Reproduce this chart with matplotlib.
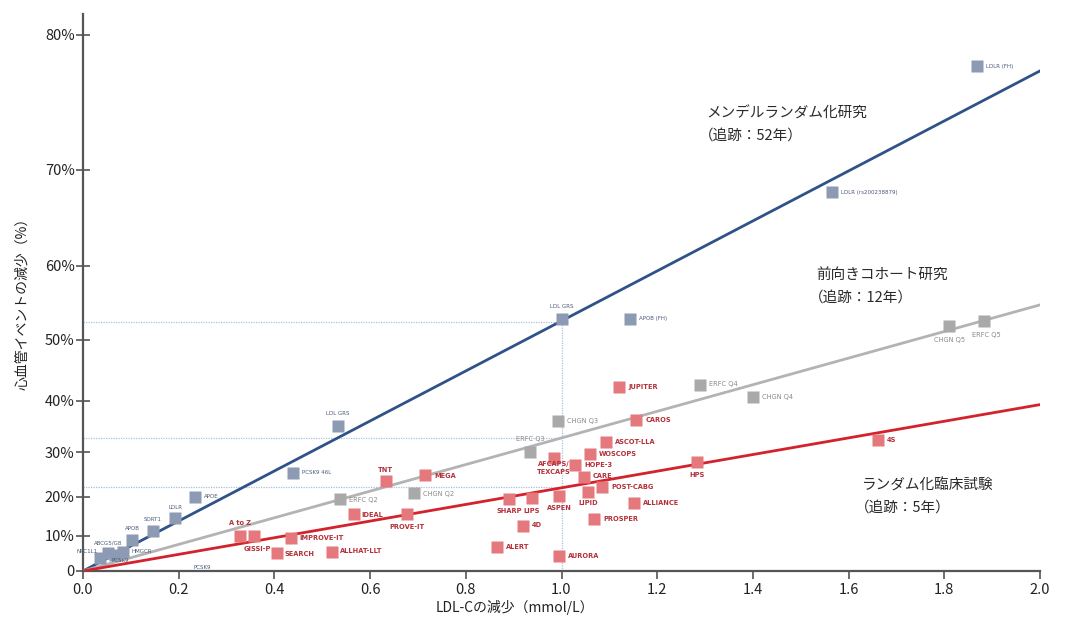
import numpy as np
import matplotlib
matplotlib.use("Agg")
import matplotlib.pyplot as plt

plt.rcParams['font.family'] = ['Noto Sans CJK JP', 'DejaVu Sans']

# ---------------- data ----------------
# Mendelian randomization (x: LDL-C reduction mmol/L, y: % CV event reduction)
mr_names = ["LDLR (FH)", "LDLR (rs200238879)", "LDL GRS", "APOB (FH)", "LDL GRS",
            "PCSK9 46L", "APOE", "LDLR", "SORT1", "APOB", "ABCG5/G8", "NPC1L1",
            "PCSK9", "HMGCR"]
mr_x = [1.868, 1.565, 1.001, 1.143, 0.533, 0.439, 0.234, 0.193, 0.146, 0.103,
        0.052, 0.036, 0.067, 0.084]
mr_y = [78.0, 67.9, 53.1, 53.1, 35.3, 25.5, 19.9, 14.6, 11.4, 8.9, 5.3, 3.8, 4.7, 5.5]

# Prospective cohort studies
co_names = ["CHGN Q5", "ERFC Q5", "ERFC Q4", "CHGN Q4", "CHGN Q3", "ERFC Q3",
            "ERFC Q2", "CHGN Q2"]
co_x = [1.810, 1.883, 1.289, 1.400, 0.993, 0.934, 0.537, 0.692]
co_y = [52.1, 52.8, 42.8, 40.7, 36.3, 30.0, 19.4, 20.9]

# Randomized clinical trials
rct_names = ["JUPITER", "CAROS", "ASCOT-LLA", "WOSCOPS", "AFCAPS/\nTEXCAPS", "HOPE-3",
             "CARE", "POST-CABG", "HPS", "4S", "LIPID", "ALLIANCE", "PROSPER",
             "ASPEN", "LIPS", "SHARP", "4D", "ALERT", "AURORA", "TNT", "MEGA",
             "IDEAL", "PROVE-IT", "A to Z", "GISSI-P", "IMPROVE-IT", "SEARCH",
             "ALLHAT-LLT"]
rct_x = [1.121, 1.156, 1.093, 1.060, 0.984, 1.028, 1.047, 1.085, 1.283, 1.661,
         1.055, 1.152, 1.068, 0.995, 0.938, 0.891, 0.919, 0.865, 0.995, 0.633,
         0.715, 0.566, 0.677, 0.328, 0.357, 0.435, 0.405, 0.520]
rct_y = [42.5, 36.4, 32.1, 29.6, 28.8, 27.3, 24.6, 22.3, 27.9, 32.5,
         21.1, 18.5, 14.5, 20.2, 19.7, 19.4, 12.6, 7.0, 4.4, 23.7,
         25.0, 15.7, 15.7, 10.0, 10.0, 9.4, 5.3, 5.5]

# fitted lines: % reduction reached at x = 2.0 mmol/L (straight on log-risk scale)
line_x = [0.0, 2.0]
mr_line = [0.0, 77.7]
co_line = [0.0, 55.0]
rct_line = [0.0, 39.3]

# reference guides at 1 mmol/L
guide_x = 1.0
guide_y = [52.6, 33.0, 22.2]

y_ticks = [0, 10, 20, 30, 40, 50, 60, 70, 80]
y_ticklabels = ["0", "10%", "20%", "30%", "40%", "50%", "60%", "70%", "80%"]
x_ticks = [0.0, 0.2, 0.4, 0.6, 0.8, 1.0, 1.2, 1.4, 1.6, 1.8, 2.0]

group_line1 = ["メンデルランダム化研究", "前向きコホート研究", "ランダム化臨床試験"]
group_line2 = ["（追跡：52年）", "（追跡：12年）", "（追跡：5年）"]

# ---------------- layout / style ----------------
group_pos = [(1.302, 75.2), (1.532, 59.7), (1.627, 24.2)]

mr_off = [("r", 9, 0), ("r", 9, 0), ("t", 0, 12), ("r", 9, 0), ("t", 0, 12),
          ("r", 9, 0), ("r", 9, 1), ("t", 0, 11), ("t", 0, 11), ("t", 0, 11),
          ("t", 0, 10), ("l", -3, 7), ("b", 5, -6), ("r", 8, 1)]
co_off = [("b", 0, -14), ("b", 2, -14), ("r", 9, 1), ("r", 9, 0), ("r", 9, 0),
          ("t", 0, 13), ("r", 9, -1), ("r", 9, -1)]
rct_off = [("r", 9, 0), ("r", 9, 0), ("r", 9, 0), ("r", 9, 0), ("b", 0, -10),
           ("r", 9, 0), ("r", 9, 1), ("r", 9, 0), ("b", 0, -13), ("r", 9, 0),
           ("b", 0, -11), ("r", 9, 0), ("r", 9, 0), ("b", 0, -12), ("b", 0, -13),
           ("b", 0, -12), ("r", 9, 1), ("r", 9, 0), ("r", 9, 0), ("t", 0, 11),
           ("r", 9, -1), ("r", 8, -1), ("b", 0, -13), ("t", 0, 13), ("b", 3, -13),
           ("r", 8, 0), ("r", 8, -1), ("r", 8, 1)]


def fwd(p):
    p = np.clip(np.asarray(p, dtype=float), -50, 99.9)
    return -np.log(1 - p / 100.0)


def inv(t):
    return 100.0 * (1 - np.exp(-np.asarray(t, dtype=float)))


fig = plt.figure(figsize=(10.7, 6.4), dpi=100)
ax = fig.add_axes([83 / 1070, 1 - 571 / 640, (1040 - 83) / 1070, (571 - 14) / 640])
ax.set_yscale('function', functions=(fwd, inv))
ax.set_xlim(0, 2.0)
ax.set_ylim(0, 81.2)

guide_c = "#a9c3dd"
for gy in guide_y:
    ax.plot([0, guide_x], [gy, gy], color=guide_c, lw=0.9, ls=(0, (1, 1)), zorder=1)
ax.plot([guide_x, guide_x], [0, guide_y[0]], color=guide_c, lw=0.9, ls=(0, (1, 1)), zorder=1)

ax.plot(line_x, mr_line, color="#2f5288", lw=2.0, zorder=3)
ax.plot(line_x, co_line, color="#b3b3b3", lw=2.0, zorder=3)
ax.plot(line_x, rct_line, color="#d3222b", lw=2.0, zorder=3)

ms = 8.5
ax.plot(mr_x, mr_y, ls="none", marker="s", ms=ms, color="#8d9ab4", mec="none", zorder=4)
ax.plot(co_x, co_y, ls="none", marker="s", ms=ms, color="#a9a9a9", mec="none", zorder=4)
ax.plot(rct_x, rct_y, ls="none", marker="s", ms=ms, color="#e5787c", mec="none", zorder=4)


def place(names, xs, ys, offs, color, size, weight):
    for n, x, y, (k, dx, dy) in zip(names, xs, ys, offs):
        ha = {"r": "left", "l": "right", "t": "center", "b": "center"}[k]
        ax.annotate(n, (x, y), xytext=(dx, dy), textcoords="offset pixels",
                    ha=ha, va="center", fontsize=size, color=color, fontweight=weight,
                    family=['DejaVu Sans'], linespacing=1.3, zorder=5)


place(mr_names, mr_x, mr_y, mr_off, "#4a5878", 4.0, "normal")
place(co_names, co_x, co_y, co_off, "#8a8a8a", 4.8, "normal")
place(rct_names, rct_x, rct_y, rct_off, "#b3303a", 4.8, "bold")
ax.annotate("PCSK9", (0.25, 0.9), ha="center", va="center", fontsize=4.0,
            color="#4a5878", family=['DejaVu Sans'])

# group titles
for l1, l2, (gx, gy) in zip(group_line1, group_line2, group_pos):
    ax.text(gx, gy, l1, fontsize=10.5, color="#2a2a2a", va="top", ha="left")
    ax.annotate(l2, (gx, gy), xytext=(-7, -22), textcoords="offset pixels",
                fontsize=10.5, color="#2a2a2a", va="top", ha="left")

ax.set_yticks(y_ticks)
ax.set_yticklabels(y_ticklabels)
ax.set_xticks(x_ticks)
ax.set_xticklabels([f"{v:.1f}" for v in x_ticks])
ax.minorticks_off()
ax.tick_params(axis='y', direction='inout', length=10, width=1.2, colors="#555555",
               labelcolor="#222222", labelsize=10.5, pad=1)
ax.tick_params(axis='x', direction='out', length=6, width=1.2, colors="#555555",
               labelcolor="#222222", labelsize=10.5, pad=3)

for s in ["top", "right"]:
    ax.spines[s].set_visible(False)
for s in ["left", "bottom"]:
    ax.spines[s].set_color("#555555")
    ax.spines[s].set_linewidth(1.6)

ax.set_xlabel("LDL-Cの減少（mmol/L）", fontsize=10, color="#222222")
ax.set_ylabel("心血管イベントの減少（%）", fontsize=10, color="#222222")
ax.xaxis.set_label_coords((515 - 83) / 957, -(607 - 571) / 557, transform=ax.transAxes)
ax.yaxis.set_label_coords(-(83 - 22) / 957, (571 - 300) / 557, transform=ax.transAxes)
ax.xaxis.label.set_verticalalignment("center")
ax.yaxis.label.set_verticalalignment("center")

fig.savefig("out.png", dpi=100)
